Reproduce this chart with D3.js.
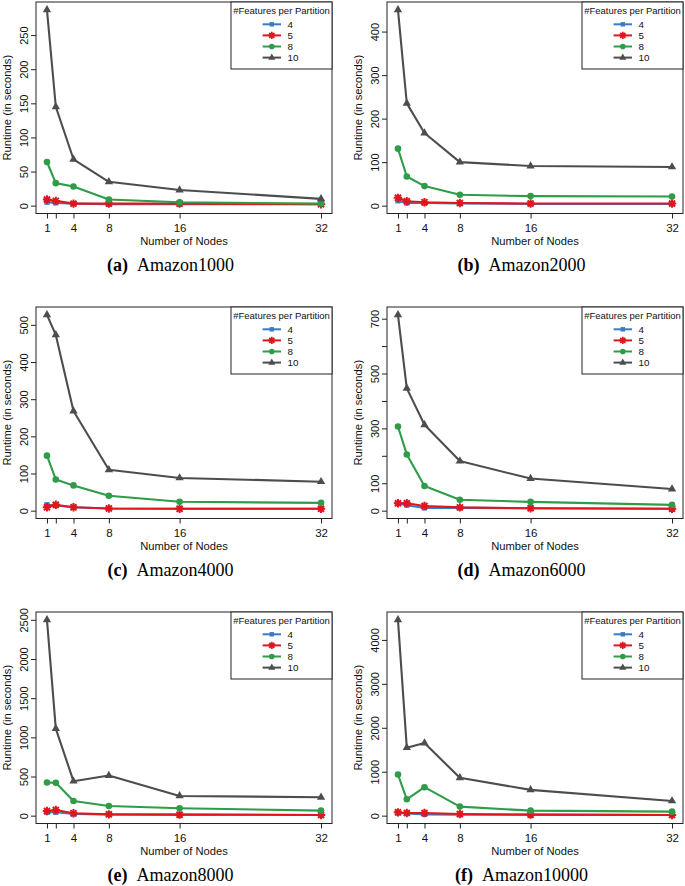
<!DOCTYPE html>
<html><head><meta charset="utf-8">
<script src="https://cdn.jsdelivr.net/npm/d3@7"></script>
<style>body{margin:0;background:#fff}svg{display:block}</style>
</head><body>
<script>
// ---------------- DATA ----------------
const nodes = [1, 2, 4, 8, 16, 32];
const xTickValues = [1, 2, 4, 8, 16, 32];
const xTickLabels = ["1", "", "4", "8", "16", "32"];
const seriesNames = ["4", "5", "8", "10"];
const seriesColors = ["#3A7CC4", "#E0161E", "#2E9C48", "#4D4D4D"];

// rows: series 4, 5, 8, 10
const amazon1000 = [
  [5, 4, 3, 2, 2, 2],
  [9, 7, 3, 3, 3, 2],
  [64, 33, 28, 9, 5, 3],
  [287, 145, 68, 35, 23, 10]
];
const amazon2000 = [
  [11, 6, 6, 5, 4, 4],
  [18, 10, 8, 6, 5, 5],
  [131, 67, 45, 25, 22, 21],
  [450, 235, 167, 100, 91, 89]
];
const amazon4000 = [
  [16, 14, 9, 6, 5, 5],
  [9, 16, 9, 6, 5, 5],
  [148, 84, 68, 40, 24, 21],
  [527, 473, 268, 110, 88, 78]
];
const amazon6000 = [
  [26, 20, 10, 10, 9, 7],
  [27, 27, 17, 12, 9, 7],
  [307, 205, 90, 40, 32, 21],
  [714, 446, 313, 181, 117, 79]
];
const amazon8000 = [
  [43, 43, 21, 17, 13, 9],
  [60, 73, 30, 17, 13, 9],
  [423, 419, 188, 124, 94, 64],
  [2500, 1111, 440, 513, 252, 235]
];
const amazon10000 = [
  [61, 53, 30, 23, 23, 15],
  [76, 61, 61, 38, 23, 15],
  [937, 373, 648, 206, 114, 91],
  [4457, 1547, 1653, 861, 587, 335]
];

const yTicks1000 = [0, 50, 100, 150, 200, 250];
const yTicks2000 = [0, 100, 200, 300, 400];
const yTicks4000 = [0, 100, 200, 300, 400, 500];
const yTicks6000 = [0, 100, 200, 300, 400, 500, 600, 700];
const yTickLabels6000 = ["0", "100", "", "300", "", "500", "", "700"];
const yTicks8000 = [0, 500, 1000, 1500, 2000, 2500];
const yTicks10000 = [0, 1000, 2000, 3000, 4000];

const panelLetters = ["a", "b", "c", "d", "e", "f"];
const panelNames = ["Amazon1000", "Amazon2000", "Amazon4000", "Amazon6000", "Amazon8000", "Amazon10000"];
const panelData = [amazon1000, amazon2000, amazon4000, amazon6000, amazon8000, amazon10000];
const panelYTicks = [yTicks1000, yTicks2000, yTicks4000, yTicks6000, yTicks8000, yTicks10000];
const panelYLabels = [null, null, null, yTickLabels6000, null, null];

const xTitle = "Number of Nodes";
const yTitle = "Runtime (in seconds)";
const legendTitle = "#Features per Partition";

// ---------------- LAYOUT ----------------
const W = 685, H = 886;
const colX = [0, 351];
const rowY = [0, 305, 610];
const L = 36, T = 2, PW = 296, PH = 211.5;
const sans = "'Liberation Sans', Arial, Helvetica, sans-serif";

const svg = d3.select("body").append("svg").attr("width", W).attr("height", H);

function drawMarker(sel, k, color) {
  if (k === 0) {
    sel.append("rect").attr("x", -2.6).attr("y", -2.6).attr("width", 5.2).attr("height", 5.2).attr("fill", color);
  } else if (k === 1) {
    const r = 4.2, d = r * 0.72;
    sel.append("path")
      .attr("d", `M${-r},0L${r},0M0,${-r}L0,${r}M${-d},${-d}L${d},${d}M${-d},${d}L${d},${-d}`)
      .attr("stroke", color).attr("stroke-width", 2).attr("fill", "none");
  } else if (k === 2) {
    sel.append("circle").attr("r", 3.3).attr("fill", color);
  } else {
    sel.append("path").attr("d", d3.symbol(d3.symbolTriangle, 30)()).attr("fill", color);
  }
}

panelData.forEach((data, i) => {
  const ox = colX[i % 2], oy = rowY[Math.floor(i / 2)];
  const g = svg.append("g").attr("transform", `translate(${ox},${oy})`);

  const mx = d3.max(data.flat());
  const x = d3.scaleLinear().domain([1 - 0.04 * 31, 32 + 0.04 * 31]).range([L, L + PW]);
  const y = d3.scaleLinear().domain([-0.04 * mx, 1.04 * mx]).range([T + PH, T]);

  // x axis
  const xa = g.append("g").attr("transform", `translate(0,${T + PH})`)
    .call(d3.axisBottom(x).tickValues(xTickValues).tickFormat((d, j) => xTickLabels[j]).tickSize(5).tickPadding(5.5));
  xa.select(".domain").remove();
  xa.selectAll("line").attr("stroke", "#222");
  xa.selectAll("text").attr("font-family", sans).attr("font-size", 11.5).attr("fill", "#111");

  // y axis
  const yl = panelYLabels[i];
  const ya = g.append("g").attr("transform", `translate(${L},0)`)
    .call(d3.axisLeft(y).tickValues(panelYTicks[i]).tickFormat((d, j) => yl ? yl[j] : String(d)).tickSize(5));
  ya.select(".domain").remove();
  ya.selectAll("line").attr("stroke", "#222");
  ya.selectAll("text")
    .attr("transform", "rotate(-90)").attr("x", 0).attr("y", -8).attr("dy", 0)
    .attr("text-anchor", "middle")
    .attr("font-family", sans).attr("font-size", 11).attr("fill", "#111");

  // box
  g.append("rect").attr("x", L).attr("y", T).attr("width", PW).attr("height", PH)
    .attr("fill", "none").attr("stroke", "#222").attr("stroke-width", 1);

  // axis titles
  g.append("text").attr("x", L + PW / 2).attr("y", T + PH + 31.5).attr("text-anchor", "middle")
    .attr("font-family", sans).attr("font-size", 11.2).attr("fill", "#111").text(xTitle);
  g.append("text").attr("transform", `translate(11,${T + PH / 2}) rotate(-90)`).attr("text-anchor", "middle")
    .attr("font-family", sans).attr("font-size", 11.2).attr("fill", "#111").text(yTitle);

  // series
  const line = d3.line().x((d, j) => x(nodes[j])).y(d => y(d));
  data.forEach((vals, k) => {
    const c = seriesColors[k];
    g.append("path").datum(vals).attr("d", line).attr("fill", "none")
      .attr("stroke", c).attr("stroke-width", 2.1).attr("stroke-linejoin", "round");
    vals.forEach((v, j) => {
      const m = g.append("g").attr("transform", `translate(${x(nodes[j])},${y(v)})`);
      drawMarker(m, k, c);
    });
  });

  // legend
  const lw = 101, lh = 67;
  const lx = L + PW - lw, ly = T;
  const lg = g.append("g").attr("transform", `translate(${lx},${ly})`);
  lg.append("rect").attr("width", lw).attr("height", lh).attr("fill", "#fff").attr("stroke", "#222").attr("stroke-width", 1);
  lg.append("text").attr("x", lw / 2).attr("y", 11.8).attr("text-anchor", "middle")
    .attr("font-family", sans).attr("font-size", 9.5).attr("fill", "#111").text(legendTitle);
  seriesNames.forEach((name, k) => {
    const cy = 22.3 + k * 11.1;
    const c = seriesColors[k];
    lg.append("line").attr("x1", 31.6).attr("x2", 50).attr("y1", cy).attr("y2", cy)
      .attr("stroke", c).attr("stroke-width", 2);
    const m = lg.append("g").attr("transform", `translate(${40.8},${cy}) scale(0.85)`);
    drawMarker(m, k, c);
    lg.append("text").attr("x", 56.6).attr("y", cy + 3.5)
      .attr("font-family", sans).attr("font-size", 9.8).attr("fill", "#111").text(name);
  });

  // caption
  const cap = g.append("text").attr("x", 170.5).attr("y", 271).attr("text-anchor", "middle")
    .attr("font-family", "'Liberation Serif', 'Times New Roman', serif").attr("font-size", 18).attr("fill", "#000");
  cap.append("tspan").attr("font-weight", "bold").text(`(${panelLetters[i]})`);
  cap.append("tspan").text("\u2002" + panelNames[i]);
});
</script>
</body></html>
